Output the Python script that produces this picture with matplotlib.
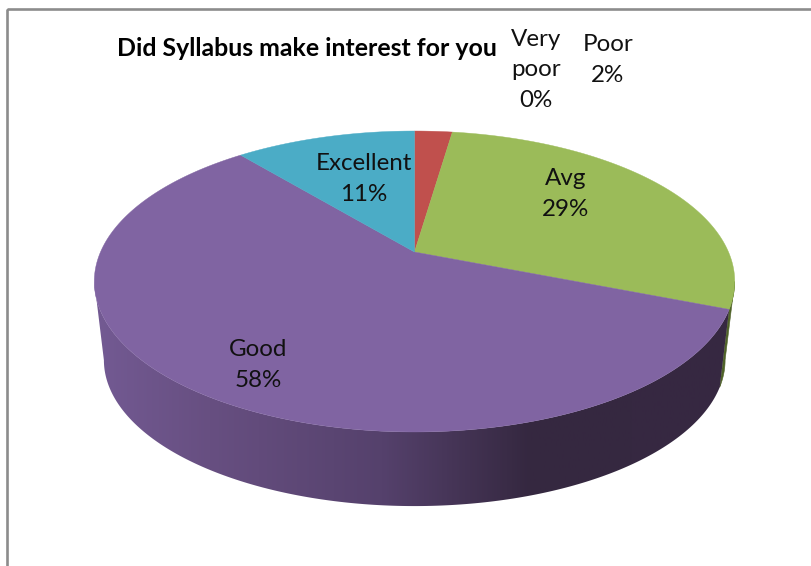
import numpy as np
import matplotlib
matplotlib.use("Agg")
import matplotlib.pyplot as plt
from matplotlib.patches import Polygon, Rectangle
from matplotlib.colors import LinearSegmentedColormap

# ---- data ----
categories = ["Very\npoor", "Poor", "Avg", "Good", "Excellent"]
values = [0, 2.3, 28.7, 58, 11]
colors = ["#4F81BD", "#C0504D", "#9BBB59", "#8064A2", "#4BACC6"]
title = "Did Syllabus make interest for you"

# ---- style / layout (pixels) ----
W, H = 812, 566
CX, CY = 414.5, 252.0
A, B, K = 144.7, 314.0, 0.196     # perspective of the disc
DEPTH_Y, DEPTH_S = 79.5, 0.97     # bottom disc offset and scale
FONT = ["Lato", "DejaVu Sans"]
label_pos = {"Very\npoor": (536, 70), "Poor": (608, 60), "Avg": (566, 194),
             "Good": (258, 365), "Excellent": (364, 179)}


def project(theta, bottom=False):
    """theta: clockwise from twelve o'clock, radians; returns pixels."""
    X, Y = np.sin(theta), np.cos(theta)
    d = 1 + K * Y
    s = DEPTH_S if bottom else 1.0
    oy = DEPTH_Y if bottom else 0.0
    return CX + s * B * X / d, CY + oy - s * A * Y / d


def arc(t0, t1, bottom=False, n=200):
    x, y = project(np.linspace(t0, t1, n), bottom)
    return np.column_stack([x, y])


fig = plt.figure(figsize=(W / 100, H / 100), dpi=100)
ax = fig.add_axes([0, 0, 1, 1])
ax.set_xlim(0, W)
ax.set_ylim(H, 0)
ax.axis("off")

ax.add_patch(Rectangle((7, 8.5), W + 50, H + 50, fill=False, ec="#8C8C8C", lw=1.9, zorder=1))

edges = np.radians(np.cumsum([0] + values) * 3.6)
right_limit = np.arccos(-K)            # silhouette of the disc
left_limit = 2 * np.pi - right_limit

grad = LinearSegmentedColormap.from_list("rim", [
    (0.00, "#735A93"), (0.18, "#674F81"), (0.45, "#55416C"),
    (0.68, "#352840"), (1.00, "#372842")])
strip = np.linspace(0, 1, 512).reshape(1, -1)

i_avg, i_good = categories.index("Avg"), categories.index("Good")

# side wall: Avg sliver
a0, a1 = right_limit, edges[i_avg + 1]
ax.add_patch(Polygon(np.vstack([arc(a0, a1), arc(a0, a1, True)[::-1]]),
                     fc="#4F6228", ec="#4F6228", lw=0.4, zorder=2))
# side wall: Good with horizontal shading
g0, g1 = edges[i_good], left_limit
wall = Polygon(np.vstack([arc(g0, g1), arc(g0, g1, True)[::-1]]),
               fc="none", ec="none", transform=ax.transData)
ax.add_patch(wall)
im = ax.imshow(strip, cmap=grad, extent=(94, 735, H, 0), aspect="auto", zorder=3)
im.set_clip_path(wall)
ax.set_xlim(0, W)
ax.set_ylim(H, 0)

# top surface
for i, v in enumerate(values):
    if v <= 0:
        continue
    pts = np.vstack([[CX, CY], arc(edges[i], edges[i + 1])])
    ax.add_patch(Polygon(pts, fc=colors[i], ec=colors[i], lw=0.3, zorder=4))

# labels
for name, v in zip(categories, values):
    x, y = label_pos[name]
    ax.text(x, y, f"{name}\n{v:.0f}%", ha="center", va="center", fontsize=17.4,
            family=FONT, color="#111111", linespacing=1.56, zorder=5)

ax.text(307, 48, title, ha="center", va="center", fontsize=17.9,
        family=FONT, fontweight="bold", color="black", zorder=5)

fig.savefig("out.png", dpi=100, facecolor="white")
